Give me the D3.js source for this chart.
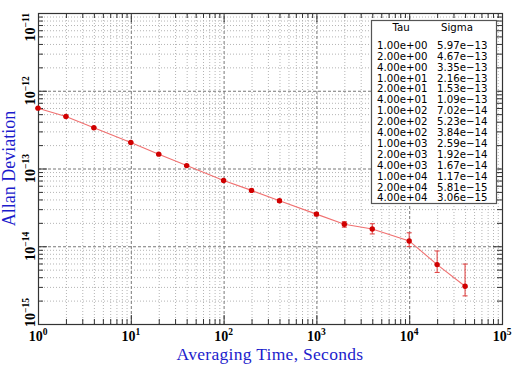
<!DOCTYPE html>
<html>
<head>
<meta charset="utf-8">
<script src="https://cdn.jsdelivr.net/npm/d3@7"></script>
<style>
  body { margin: 0; background: #fff; }
  svg { display: block; }
</style>
</head>
<body>
<svg id="chart" width="512" height="365"></svg>
<script>
const tau = [1, 2, 4, 10, 20, 40, 100, 200, 400, 1000, 2000, 4000, 10000, 20000, 40000];
const sigma = [5.97e-13, 4.67e-13, 3.35e-13, 2.16e-13, 1.53e-13, 1.09e-13, 7.02e-14, 5.23e-14,
  3.84e-14, 2.59e-14, 1.92e-14, 1.67e-14, 1.17e-14, 5.81e-15, 3.06e-15];
// error bar ends
const sigmaHi = [6.0e-13, 4.70e-13, 3.38e-13, 2.18e-13, 1.55e-13, 1.11e-13, 7.2e-14, 5.4e-14,
  4.0e-14, 2.72e-14, 2.07e-14, 1.95e-14, 1.49e-14, 8.7e-15, 5.9e-15];
const sigmaLo = [5.94e-13, 4.64e-13, 3.32e-13, 2.14e-13, 1.51e-13, 1.07e-13, 6.85e-14, 5.07e-14,
  3.69e-14, 2.46e-14, 1.76e-14, 1.44e-14, 9.9e-15, 4.6e-15, 2.3e-15];

const xTickExp = [0, 1, 2, 3, 4, 5];
const yTickExp = [-15, -14, -13, -12, -11];

const pLeft = 38, pRight = 502, pTop = 13, pBottom = 324;

const x = d3.scaleLog().domain([1, 1e5]).range([pLeft, pRight]);
const y = d3.scaleLog().domain([1e-15, 1e-11]).range([pBottom, pTop]);

const data = tau.map((t, i) => ({ tau: t, sigma: sigma[i], hi: sigmaHi[i], lo: sigmaLo[i] }));

const isPow10 = v => Math.abs(Math.log10(v) - Math.round(Math.log10(v))) < 1e-6;
const xMajor = xTickExp.map(e => Math.pow(10, e));
const yMajor = yTickExp.map(e => Math.pow(10, e));
const xMinor = x.ticks().filter(v => !isPow10(v));
const yMinor = y.ticks().filter(v => !isPow10(v));

const svg = d3.select("#chart");
const plotW = pRight - pLeft, plotH = pBottom - pTop;

function styleGrid(g, color, dash) {
  g.select(".domain").remove();
  g.selectAll("line").attr("stroke", color).attr("stroke-dasharray", dash);
}

// minor grid (dotted)
svg.append("g").attr("transform", `translate(0,${pBottom})`)
  .call(d3.axisBottom(x).tickValues(xMinor).tickSize(-plotH).tickFormat(""))
  .call(g => styleGrid(g, "#b4b4b4", "1,2"));
svg.append("g").attr("transform", `translate(${pLeft},0)`)
  .call(d3.axisLeft(y).tickValues(yMinor).tickSize(-plotW).tickFormat(""))
  .call(g => styleGrid(g, "#b4b4b4", "1,2"));

// major grid (dashed)
svg.append("g").attr("transform", `translate(0,${pBottom})`)
  .call(d3.axisBottom(x).tickValues(xMajor.slice(1, -1)).tickSize(-plotH).tickFormat(""))
  .call(g => styleGrid(g, "#777", "3,2"));
svg.append("g").attr("transform", `translate(${pLeft},0)`)
  .call(d3.axisLeft(y).tickValues(yMajor.slice(1, -1)).tickSize(-plotW).tickFormat(""))
  .call(g => styleGrid(g, "#777", "3,2"));

// inward tick marks on all four sides
function ticks(axisFn, scale, vals, size, tr) {
  svg.append("g").attr("transform", tr)
    .call(axisFn(scale).tickValues(vals).tickSize(-size).tickFormat(""))
    .call(g => g.select(".domain").remove())
    .selectAll("line").attr("stroke", "#333");
}
ticks(d3.axisBottom, x, xMajor, 9, `translate(0,${pBottom})`);
ticks(d3.axisBottom, x, xMinor, 5, `translate(0,${pBottom})`);
ticks(d3.axisTop, x, xMajor, 9, `translate(0,${pTop})`);
ticks(d3.axisTop, x, xMinor, 5, `translate(0,${pTop})`);
ticks(d3.axisLeft, y, yMajor, 9, `translate(${pLeft},0)`);
ticks(d3.axisLeft, y, yMinor, 5, `translate(${pLeft},0)`);
ticks(d3.axisRight, y, yMajor, 9, `translate(${pRight},0)`);
ticks(d3.axisRight, y, yMinor, 5, `translate(${pRight},0)`);

// frame
svg.append("rect")
  .attr("x", pLeft + 0.5).attr("y", pTop + 0.5)
  .attr("width", plotW).attr("height", plotH)
  .attr("fill", "none").attr("stroke", "#333").attr("stroke-width", 1.2);

// tick labels
const tickFont = "'Liberation Serif', 'DejaVu Serif', serif";
const xl = svg.append("g").selectAll("text").data(xTickExp).enter().append("text")
  .attr("x", e => x(Math.pow(10, e)))
  .attr("y", 341)
  .attr("text-anchor", "middle")
  .attr("font-family", tickFont).attr("font-weight", "bold").attr("font-size", 14)
  .attr("fill", "#000");
xl.append("tspan").text("10");
xl.append("tspan").attr("dy", -6).attr("font-size", 9.5).text(e => e);

const yl = svg.append("g").selectAll("text").data(yTickExp).enter().append("text")
  .attr("transform", e => `translate(35,${y(Math.pow(10, e)) + (e === -15 ? 3 : 0)}) rotate(-90)`)
  .attr("text-anchor", (e, i) => i === 0 ? "start" : (i === yTickExp.length - 1 ? "end" : "middle"))
  .attr("font-family", tickFont).attr("font-weight", "bold").attr("font-size", 14)
  .attr("fill", "#000");
yl.append("tspan").text("10");
yl.append("tspan").attr("dy", -6).attr("font-size", 9.5).text(e => "\u2212" + Math.abs(e));

// axis titles
svg.append("text")
  .attr("x", (pLeft + pRight) / 2).attr("y", 360)
  .attr("text-anchor", "middle")
  .attr("font-family", tickFont).attr("font-size", 17.5)
  .attr("letter-spacing", 0.3)
  .attr("fill", "#1c1ccc")
  .text("Averaging Time, Seconds");
svg.append("text")
  .attr("transform", `translate(15,${(pTop + pBottom) / 2}) rotate(-90)`)
  .attr("text-anchor", "middle")
  .attr("font-family", tickFont).attr("font-size", 18)
  .attr("fill", "#1c1ccc")
  .text("Allan Deviation");

// data line
svg.append("path")
  .datum(data)
  .attr("fill", "none")
  .attr("stroke", "#f07070")
  .attr("stroke-width", 1.1)
  .attr("d", d3.line().x(d => x(d.tau)).y(d => y(d.sigma)));

// error bars
const eb = svg.append("g").attr("stroke", "#e04848").attr("stroke-width", 1.1);
eb.selectAll("line.v").data(data).enter().append("line")
  .attr("x1", d => x(d.tau)).attr("x2", d => x(d.tau))
  .attr("y1", d => y(d.hi)).attr("y2", d => y(d.lo));
eb.selectAll("line.h").data(data).enter().append("line")
  .attr("x1", d => x(d.tau) - 2.5).attr("x2", d => x(d.tau) + 2.5)
  .attr("y1", d => y(d.hi)).attr("y2", d => y(d.hi));
eb.selectAll("line.l").data(data).enter().append("line")
  .attr("x1", d => x(d.tau) - 2.5).attr("x2", d => x(d.tau) + 2.5)
  .attr("y1", d => y(d.lo)).attr("y2", d => y(d.lo));

// markers
svg.append("g").selectAll("circle").data(data).enter().append("circle")
  .attr("cx", d => x(d.tau)).attr("cy", d => y(d.sigma))
  .attr("r", 2.7)
  .attr("fill", "#d00000");

// value table
function sci(v) {
  const [m, e] = v.toExponential(2).split("e");
  const n = parseInt(e, 10);
  return m + "e" + (n < 0 ? "\u2212" : "+") + String(Math.abs(n)).padStart(2, "0");
}
const tableFont = "'DejaVu Sans', Verdana, sans-serif";
const box = svg.append("g");
box.append("rect")
  .attr("x", 371.5).attr("y", 20.5).attr("width", 125).attr("height", 183)
  .attr("fill", "#fff").attr("stroke", "#555").attr("stroke-width", 1.2);
box.append("text").attr("x", 401).attr("y", 31)
  .attr("text-anchor", "middle").attr("font-family", tableFont).attr("font-size", 10.2)
  .text("Tau");
box.append("text").attr("x", 457).attr("y", 31)
  .attr("text-anchor", "middle").attr("font-family", tableFont).attr("font-size", 10.2)
  .text("Sigma");
const rows = box.selectAll("g.row").data(data).enter().append("g")
  .attr("transform", (d, i) => `translate(0,${48.8 + i * 10.9})`);
rows.append("text").attr("x", 377)
  .attr("font-family", tableFont).attr("font-size", 10.2)
  .text(d => sci(d.tau));
rows.append("text").attr("x", 437)
  .attr("font-family", tableFont).attr("font-size", 10.2)
  .text(d => sci(d.sigma));
</script>
</body>
</html>
